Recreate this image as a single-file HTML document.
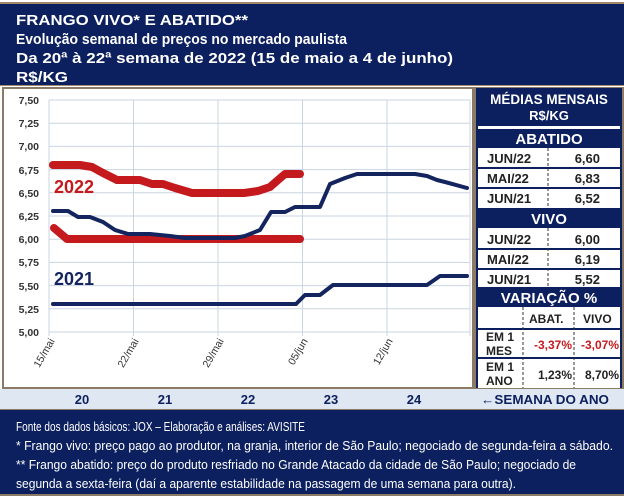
<!DOCTYPE html>
<html><head><meta charset="utf-8"><style>html,body{margin:0;padding:0;background:#fff}svg{display:block}</style></head>
<body>
<svg width="624" height="498" viewBox="0 0 624 498" xmlns="http://www.w3.org/2000/svg" font-family="'Liberation Sans Narrow','Liberation Sans',sans-serif">
<rect x="0" y="0" width="624" height="498" fill="#fff"/>
<rect x="0" y="2" width="624" height="84" fill="#a08a6a"/>
<rect x="0" y="4" width="624" height="81" fill="#0c1f5e"/>
<g fill="#fff" font-weight="bold" font-size="15">
<text x="16" y="25" textLength="232" lengthAdjust="spacingAndGlyphs">FRANGO VIVO* E ABATIDO**</text>
<text x="16" y="44" textLength="331" lengthAdjust="spacingAndGlyphs">Evolução semanal de preços no mercado paulista</text>
<text x="16" y="63" textLength="437" lengthAdjust="spacingAndGlyphs">Da 20ª à 22ª semana de 2022 (15 de maio a 4 de junho)</text>
<text x="16" y="82" textLength="52" lengthAdjust="spacingAndGlyphs">R$/KG</text>
</g>
<rect x="2" y="87" width="472" height="302" fill="#8a7a66"/>
<rect x="4" y="89" width="468" height="298" fill="#fff"/>
<g stroke="#c9d5e2" stroke-width="1">
<line x1="49" y1="100" x2="470" y2="100"/><line x1="49" y1="123.2" x2="470" y2="123.2"/><line x1="49" y1="146.4" x2="470" y2="146.4"/><line x1="49" y1="169.6" x2="470" y2="169.6"/><line x1="49" y1="192.8" x2="470" y2="192.8"/><line x1="49" y1="216" x2="470" y2="216"/><line x1="49" y1="239.2" x2="470" y2="239.2"/><line x1="49" y1="262.4" x2="470" y2="262.4"/><line x1="49" y1="285.6" x2="470" y2="285.6"/><line x1="49" y1="308.8" x2="470" y2="308.8"/><line x1="49" y1="332" x2="470" y2="332"/>
<line x1="49" y1="100" x2="49" y2="336"/><line x1="133.5" y1="100" x2="133.5" y2="336"/><line x1="218" y1="100" x2="218" y2="336"/><line x1="302.5" y1="100" x2="302.5" y2="336"/><line x1="387" y1="100" x2="387" y2="336"/><line x1="470" y1="100" x2="470" y2="336"/>
</g>
<g fill="#333" font-size="10.5" font-weight="bold" text-anchor="end">
<text x="39" y="104">7,50</text><text x="39" y="127">7,25</text><text x="39" y="150">7,00</text><text x="39" y="174">6,75</text><text x="39" y="197">6,50</text><text x="39" y="220">6,25</text><text x="39" y="243">6,00</text><text x="39" y="266">5,75</text><text x="39" y="290">5,50</text><text x="39" y="313">5,25</text><text x="39" y="336">5,00</text>
</g>
<g fill="#333" font-size="10.5" text-anchor="end">
<text transform="translate(55,341) rotate(-60)">15/mai</text>
<text transform="translate(139,341) rotate(-60)">22/mai</text>
<text transform="translate(224,341) rotate(-60)">29/mai</text>
<text transform="translate(308,341) rotate(-60)">05/jun</text>
<text transform="translate(393,341) rotate(-60)">12/jun</text>
</g>
<g fill="none" stroke-linejoin="round" stroke-linecap="round">
<polyline stroke="#c41a1e" stroke-width="8" points="53,165 80,165 92,167 103,173 117,180 140,180 152,184 163,184 175,188 192,193 244,193 258,191 270,187 278,180 285,174 300,174"/>
<polyline stroke="#c41a1e" stroke-width="8" points="54,228 67,239 300,239"/>
<polyline stroke="#13245e" stroke-width="4" points="53,211 68,211 78,217 90,217 103,222 115,230 128,234 150,234 170,236 185,238 235,238 245,236 260,230 271,212 285,212 295,207 320,207 330,184 345,178 357,174 415,174 427,176 437,180 445,182 467,188"/>
<polyline stroke="#13245e" stroke-width="4" points="53,304 296,304 305,295 320,295 333,285 427,285 440,276 467,276"/>
</g>
<text x="54" y="193" fill="#c41a1e" font-size="18" font-weight="bold" font-family="'Liberation Sans',sans-serif">2022</text>
<text x="54" y="285" fill="#13245e" font-size="18" font-weight="bold" font-family="'Liberation Sans',sans-serif">2021</text>
<rect x="474" y="87" width="150" height="302" fill="#8a7a66"/>
<rect x="476" y="88" width="146" height="300" fill="#fff"/>
<g fill="#0c1f5e">
<rect x="476" y="88" width="146" height="38"/>
<rect x="476" y="129" width="146" height="19"/>
<rect x="476" y="208" width="146" height="20"/>
<rect x="476" y="287" width="146" height="20"/>
</g>
<g stroke="#0c1f5e" stroke-width="2">
<line x1="476" y1="168" x2="622" y2="168"/><line x1="476" y1="188" x2="622" y2="188"/>
<line x1="476" y1="249" x2="622" y2="249"/><line x1="476" y1="269" x2="622" y2="269"/>
<line x1="476" y1="329" x2="622" y2="329"/><line x1="476" y1="358" x2="622" y2="358"/>
<line x1="477" y1="88" x2="477" y2="388"/><line x1="621" y1="88" x2="621" y2="388"/>
</g>
<g stroke="#333" stroke-width="1" stroke-dasharray="3,2">
<line x1="548" y1="148" x2="548" y2="208"/><line x1="548" y1="228" x2="548" y2="287"/>
<line x1="523" y1="307" x2="523" y2="388"/><line x1="574" y1="307" x2="574" y2="388"/>
</g>
<g fill="#fff" font-weight="bold" text-anchor="middle" font-family="'Liberation Sans',sans-serif">
<text x="549" y="104" font-size="13.5">MÉDIAS MENSAIS</text>
<text x="549" y="120" font-size="13">R$/KG</text>
<text x="549" y="144" font-size="15">ABATIDO</text>
<text x="549" y="224" font-size="15">VIVO</text>
<text x="549" y="303" font-size="15">VARIAÇÃO %</text>
</g>
<g fill="#222" font-weight="bold" font-size="13" font-family="'Liberation Sans',sans-serif">
<text x="487" y="163">JUN/22</text><text x="487" y="183">MAI/22</text><text x="487" y="203">JUN/21</text>
<text x="487" y="244">JUN/22</text><text x="487" y="264">MAI/22</text><text x="487" y="284">JUN/21</text>
<g text-anchor="end"><text x="600" y="163">6,60</text><text x="600" y="183">6,83</text><text x="600" y="203">6,52</text>
<text x="600" y="244">6,00</text><text x="600" y="264">6,19</text><text x="600" y="284">5,52</text></g>
<text x="529" y="323" font-size="12">ABAT.</text><text x="583" y="323" font-size="12">VIVO</text>
<text x="486" y="341" font-size="12">EM 1</text><text x="486" y="355" font-size="12">MES</text>
<text x="486" y="371" font-size="12">EM 1</text><text x="486" y="385" font-size="12">ANO</text>
<g text-anchor="end" font-size="12"><text x="572" y="349" fill="#c41a1e">-3,37%</text><text x="619" y="349" fill="#c41a1e">-3,07%</text>
<text x="572" y="379">1,23%</text><text x="619" y="379">8,70%</text></g>
</g>
<rect x="0" y="389" width="624" height="20" fill="#dfe8f2"/>
<g fill="#0c1f5e" font-weight="bold" font-size="13" text-anchor="middle" font-family="'Liberation Sans',sans-serif">
<text x="82" y="404">20</text><text x="165" y="404">21</text><text x="248" y="404">22</text><text x="331" y="404">23</text><text x="414" y="404">24</text>
<text x="545" y="404" textLength="128" lengthAdjust="spacingAndGlyphs">←SEMANA DO ANO</text>
</g>
<rect x="0" y="409" width="624" height="87" fill="#8a7a66"/>
<rect x="0" y="410" width="624" height="84" fill="#0c1f5e"/>
<g fill="#fff" font-size="13">
<text x="16" y="431" textLength="289" lengthAdjust="spacingAndGlyphs">Fonte dos dados básicos: JOX – Elaboração e análises: AVISITE</text>
<text x="16" y="450" textLength="597" lengthAdjust="spacingAndGlyphs">*   Frango vivo: preço pago ao produtor, na granja, interior de São Paulo; negociado de segunda-feira a sábado.</text>
<text x="16" y="469" textLength="560" lengthAdjust="spacingAndGlyphs">** Frango abatido: preço do produto resfriado no Grande Atacado da cidade de São Paulo; negociado de</text>
<text x="16" y="488" textLength="500" lengthAdjust="spacingAndGlyphs">segunda a sexta-feira (daí a aparente estabilidade na passagem de uma semana para outra).</text>
</g>
</svg>
</body></html>
